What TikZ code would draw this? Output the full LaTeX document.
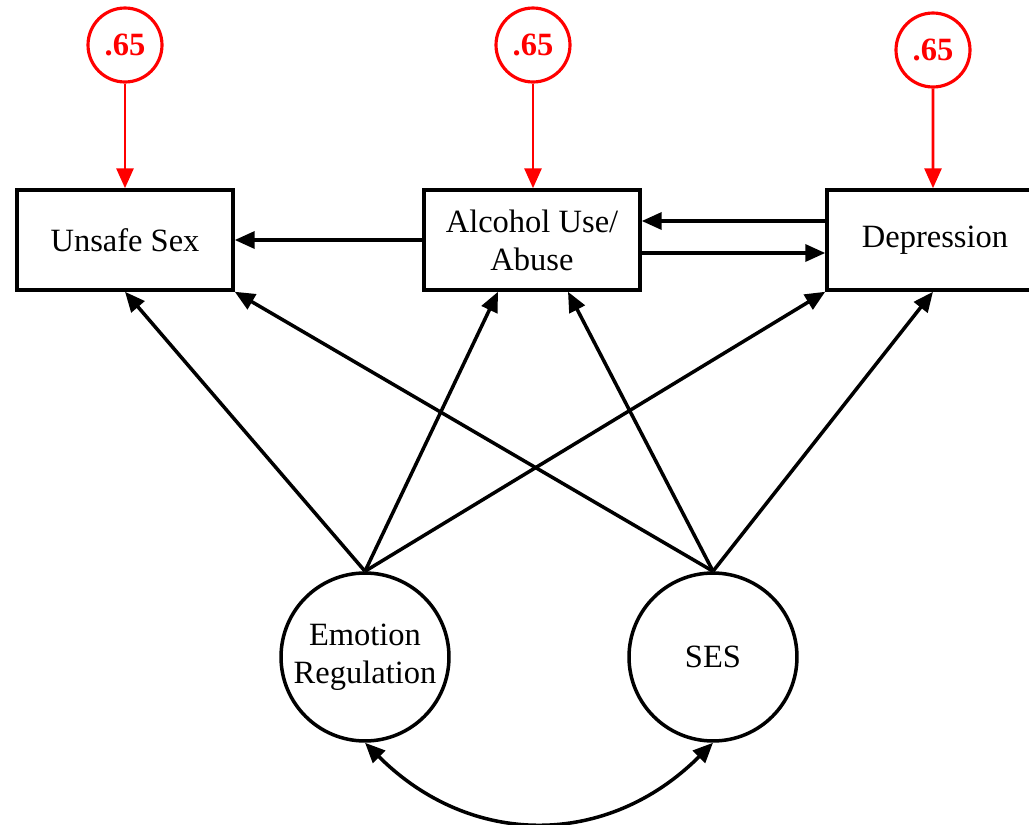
\documentclass[tikz,border=0pt]{standalone}
\usepackage{fontspec}
\setmainfont{Liberation Serif}
\usetikzlibrary{arrows.meta}
\begin{document}
\begin{tikzpicture}[x=0.02cm,y=-0.02cm,
    font=\fontsize{18.5}{21.6}\selectfont,
    >={Triangle[length=0.4cm,width=0.34cm]},
    obs/.style={draw,line width=2pt,minimum width=4.32cm,minimum height=2cm,align=center,inner sep=0pt},
    lat/.style={draw,circle,line width=2pt,minimum size=3.36cm,align=center,inner sep=0pt},
    err/.style={draw=red,circle,line width=1.8pt,minimum size=1.48cm,text=red,font=\fontsize{18.5}{21.6}\selectfont\bfseries,inner sep=0pt},
    regpath/.style={->,line width=2pt},
    errpath/.style={->,draw=red,fill=red,line width=1.7pt}]
    \clip (0,0) rectangle (1029,825);
    \node[obs] (unsafe) at (125,240) {Unsafe Sex};
    \node[obs] (alc) at (532,240) {Alcohol Use/\\Abuse};
    \node[obs] (dep) at (935,240) {Depression};
    \node[err] (e1) at (125,45) {.65};
    \node[err] (e2) at (533,45) {.65};
    \node[err] (e3) at (933,50) {.65};
    \node[lat] (emo) at (365,657) {Emotion\\Regulation};
    \node[lat] (ses) at (713,657) {SES};
    \draw[errpath] (e1) -- (unsafe.north);
    \draw[errpath] (e2) -- ([xshift=0.02cm]alc.north);
    \draw[errpath] (e3) -- ([xshift=-0.04cm]dep.north);
    \draw[regpath] (alc.west) -- (unsafe.east);
    \draw[regpath] ([yshift=0.38cm]dep.west) -- ([yshift=0.38cm]alc.east);
    \draw[regpath] ([yshift=-0.26cm]alc.east) -- ([yshift=-0.26cm]dep.west);
    \draw[regpath] (emo.north) -- (unsafe.south);
    \draw[regpath] (emo.north) -- ([xshift=-0.68cm]alc.south);
    \draw[regpath] (emo.north) -- (dep.south west);
    \draw[regpath] (ses.north) -- (unsafe.south east);
    \draw[regpath] (ses.north) -- ([xshift=0.72cm]alc.south);
    \draw[regpath] (ses.north) -- ([xshift=-0.04cm]dep.south);
    \draw[regpath,<->] (emo.south) to[out=-45,in=-135,looseness=1.1] (ses.south);
\end{tikzpicture}
\end{document}
